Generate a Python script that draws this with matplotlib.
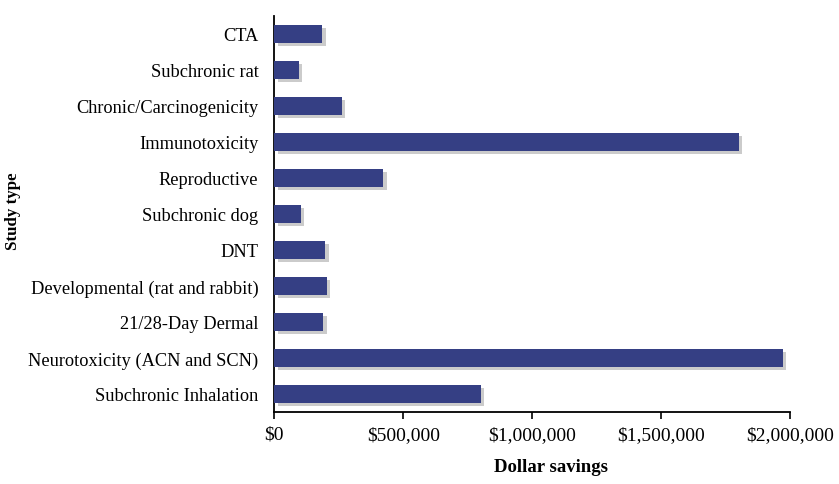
import matplotlib.pyplot as plt
import matplotlib.patheffects as pe
from matplotlib.ticker import FuncFormatter

plt.rcParams['font.family'] = ['Liberation Serif', 'DejaVu Serif']

# top to bottom as in the chart
study_types = ["CTA", "Subchronic rat", "Chronic/Carcinogenicity", "Immunotoxicity",
               "Reproductive", "Subchronic dog", "DNT", "Developmental (rat and rabbit)",
               "21/28-Day Dermal", "Neurotoxicity (ACN and SCN)", "Subchronic Inhalation"]
savings = [185000, 95000, 262000, 1802000, 422000, 102000, 197000, 204000,
           189000, 1973000, 800000]
x_ticks = [0, 500000, 1000000, 1500000, 2000000]

fig = plt.figure(figsize=(8.39, 4.85), dpi=100)
ax = fig.add_axes([0.327, 0.1485, 0.6145, 0.8165])

pos = list(range(len(study_types)))[::-1]
bars = ax.barh(pos, savings, height=0.5, color='#353F84', zorder=3)
for b in bars:
    b.set_path_effects([pe.SimplePatchShadow(offset=(2.5, -2.5), shadow_rgbFace='#999999', alpha=0.5),
                        pe.Normal()])

ax.set_xlim(0, 2000000)
ax.set_ylim(-0.5, len(study_types) - 0.5)
ax.set_yticks(pos)
ax.set_yticklabels(study_types, fontsize=13.2)
ax.set_xticks(x_ticks)
ax.xaxis.set_major_formatter(FuncFormatter(lambda v, p: "${:,.0f}".format(v)))
ax.tick_params(axis='x', labelsize=14, length=5, width=1.2, direction='out', pad=5)
ax.tick_params(axis='y', length=0, pad=11.5)

for s in ['top', 'right']:
    ax.spines[s].set_visible(False)
ax.spines['left'].set_linewidth(1.3)
ax.spines['bottom'].set_linewidth(1.3)

ax.set_xlabel('Dollar savings', fontsize=13.5, fontweight='bold')
ax.xaxis.set_label_coords(0.536, -0.117)
ax.set_ylabel('Study type', fontsize=12.2, fontweight='bold')
ax.yaxis.set_label_coords(-0.4918, 0.509)

fig.savefig('out.png', dpi=100)
